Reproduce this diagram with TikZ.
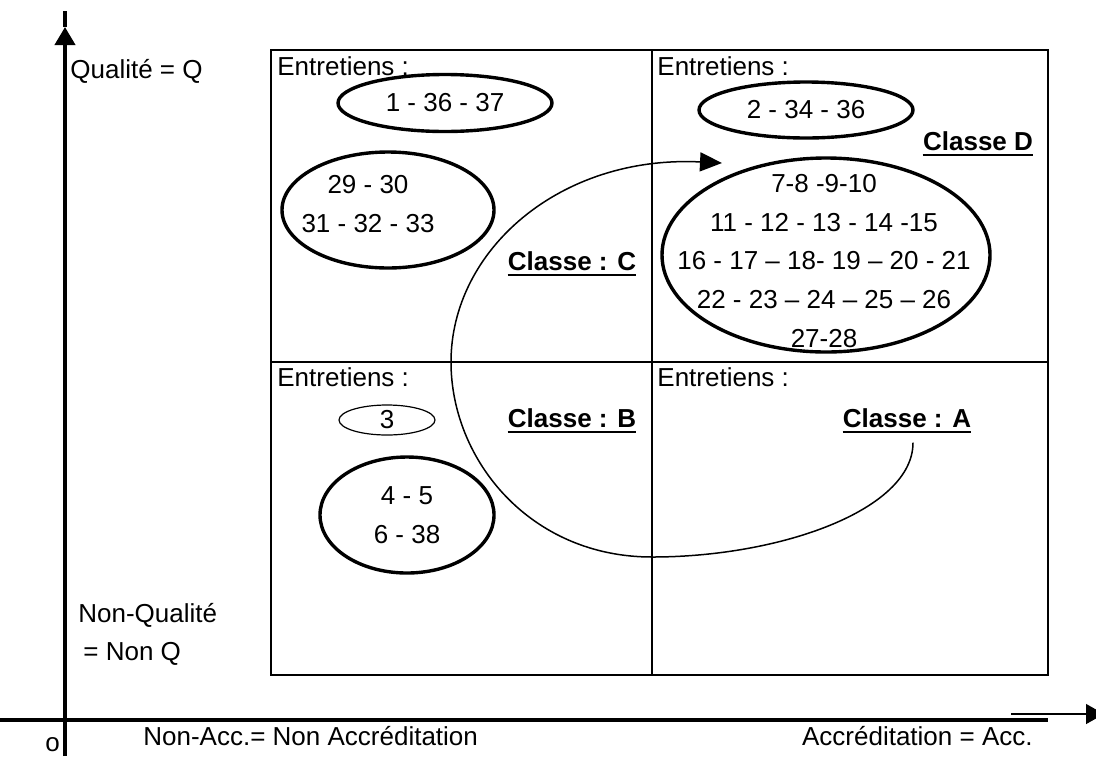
\documentclass[tikz,border=0pt]{standalone}
\usepackage{fontspec}
\setmainfont{Liberation Sans}
\usetikzlibrary{arrows.meta, shapes.geometric, calc}
\tikzset{
    my-text/.style={
        inner sep=0pt, font=\fontsize{13}{19.3}\selectfont
    },
    my-classe/.style={
        inner sep=0pt, font=\fontsize{13}{19.3}\selectfont\bfseries
    },
    my-oval/.style={
        ellipse, draw, line width=1.7pt, inner sep=0pt, align=center,
        font=\fontsize{13}{19.3}\selectfont
    },
    my-thin-oval/.style={
        my-oval, line width=0.6pt
    },
    my-underline/.style={line width=1.4pt},
    my-axis/.style={line width=2pt},
}

\begin{document}
\begin{tikzpicture}[x=0.5pt, y=-0.5pt]

        \useasboundingbox (0,0) rectangle (1096,756);

        % AXES
        \draw[my-axis, -{Triangle[width=10pt, length=9pt]}] (65,756) -- (65,27);
        \draw[my-axis] (65,27) -- (65,11);
        \draw[my-axis] (0,720) -- (1048,720);
        \draw[line width=0.6pt, -{Triangle[width=10pt, length=9pt]}] (1011,714) -- (1104,714);

        % AXIS LABELS
        \node[my-text, anchor=base west] (qual)      at (70,78)   {Qualité = Q};
        \node[my-text, anchor=base west] (nonqual)   at (78,622)  {Non-Qualité};
        \node[my-text, anchor=base west] (nonqualeq) at (83,660)  {= Non Q};
        \node[my-text, anchor=base west] (orig)      at (45,751)  {o};
        \node[my-text, anchor=base west] (nonacc)    at (143,745) {Non-Acc.= Non Accréditation};
        \node[my-text, anchor=base east] (acc)       at (1033,745) {Accréditation = Acc.};

        % GRID
        \draw[line width=1pt] (271,50) rectangle (1048,675);
        \draw[line width=1pt] (652,50) -- (652,675);
        \draw[line width=1pt] (271,362) -- (1048,362);

        % CELL TITLES
        \node[my-text, anchor=base west] (entTL) at (277,75)  {Entretiens :};
        \node[my-text, anchor=base west] (entTR) at (657,75)  {Entretiens :};
        \node[my-text, anchor=base west] (entBL) at (277,386) {Entretiens :};
        \node[my-text, anchor=base west] (entBR) at (657,386) {Entretiens :};

        % OVALS
        \node[my-oval, minimum width=107pt, minimum height=28.5pt] (ovA) at (445,103) {1 - 36 - 37};
        \node[my-oval, minimum width=106pt, minimum height=58pt]   (ovB) at (388,210) {};
        \node[my-text, align=center]                                (txtB) at (368,204) {29 - 30\\31 - 32 - 33};
        \node[my-oval, minimum width=107pt, minimum height=28pt]   (ovC) at (806,110) {2 - 34 - 36};
        \node[my-oval, minimum width=164pt, minimum height=97pt]   (ovD) at (826,255) {};
        \node[my-text, align=center]                                (txtD) at (824,261)
            {7-8 -9-10\\11 - 12 - 13 - 14 -15\\16 - 17 – 18- 19 – 20 - 21\\22 - 23 – 24 – 25 – 26\\27-28};
        \node[my-thin-oval, minimum width=48pt, minimum height=15pt] (ovE) at (387,420) {3};
        \node[my-oval, minimum width=87pt, minimum height=58pt]    (ovF) at (407,515) {4 - 5\\6 - 38};

        % CLASSES
        \node[my-classe, anchor=base] (clC) at (572,270) {Classe : C};
        \node[my-classe, anchor=base] (clD) at (978,150) {Classe D};
        \node[my-classe, anchor=base] (clB) at (572,427) {Classe : B};
        \node[my-classe, anchor=base] (clA) at (907,427) {Classe : A};
        \foreach \cl in {clC, clD, clB, clA} {
            \draw[my-underline] ([yshift=-2.5pt]\cl.base west) -- ([yshift=-2.5pt]\cl.base east);
        }

        % MOVE FROM CLASS A TO CLASS D
        \coordinate (arrD) at (722,163);
        \draw[line width=0.75pt, -{Triangle[width=9.5pt, length=11pt]}]
            ([xshift=3pt, yshift=-7.5pt]clA.south)
            .. controls (913,510) and (780,557) .. (652,557)
            .. controls (530,557) and (451,460) .. (451,362)
            .. controls (451,250) and (560,155) .. (arrD);

\end{tikzpicture}
\end{document}
